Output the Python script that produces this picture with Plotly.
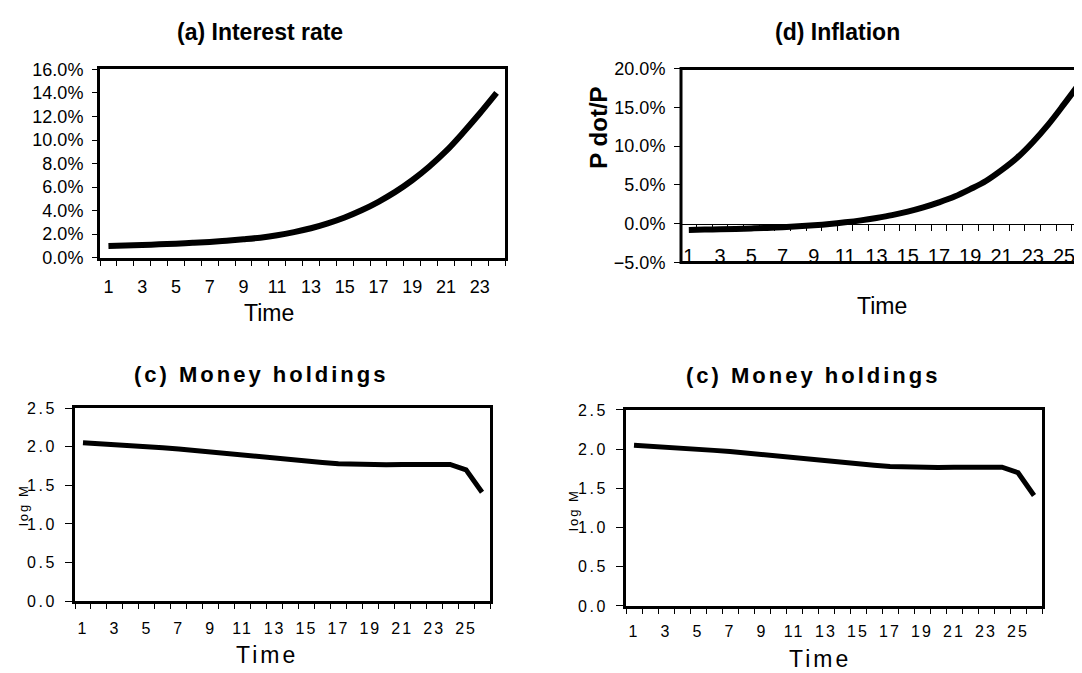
import plotly.graph_objects as go

# ---------------- data ----------------
time_a = list(range(1, 25))
interest_rate = [1.00, 1.04, 1.08, 1.13, 1.19, 1.26, 1.34, 1.44, 1.56, 1.70, 1.90, 2.17,
                 2.50, 2.92, 3.42, 4.03, 4.75, 5.59, 6.58, 7.73, 9.05, 10.6, 12.25, 14.0]

time_d = list(range(1, 27))
inflation = [-0.80, -0.76, -0.72, -0.67, -0.61, -0.54, -0.45, -0.34, -0.20, -0.03, 0.18, 0.43,
             0.74, 1.10, 1.55, 2.10, 2.75, 3.50, 4.45, 5.50, 6.90, 8.50, 10.50, 12.80, 15.40, 18.10]

time_c = list(range(1, 27))
money_holdings = [2.05, 2.04, 2.03, 2.015, 2.00, 1.985, 1.97, 1.95, 1.93, 1.91, 1.89, 1.865,
                  1.84, 1.825, 1.81, 1.795, 1.78, 1.77, 1.765, 1.765, 1.77, 1.775, 1.78, 1.77,
                  1.70, 1.41]

odd_ticks_24 = list(range(1, 25, 2))
odd_ticks_26 = list(range(1, 27, 2))
logm_ticks = [0.0, 0.5, 1.0, 1.5, 2.0, 2.5]

W, H = 1082, 673
FONT = "Liberation Sans, Arial, sans-serif"


def px(x):
    return x / W


def py(y):
    return 1 - y / H


def spaced(text, sp):
    return f'<span style="letter-spacing:{sp}px">{text}</span>'


fig = go.Figure()
fig.add_trace(go.Scatter(x=time_a, y=interest_rate, mode="lines", xaxis="x", yaxis="y",
                         line=dict(color="black", width=6, shape="spline"), showlegend=False))
fig.add_trace(go.Scatter(x=time_d, y=inflation, mode="lines", xaxis="x2", yaxis="y2",
                         line=dict(color="black", width=6, shape="spline"), showlegend=False))
fig.add_trace(go.Scatter(x=time_c, y=money_holdings, mode="lines", xaxis="x3", yaxis="y3",
                         line=dict(color="black", width=5), showlegend=False))
fig.add_trace(go.Scatter(x=time_c, y=money_holdings, mode="lines", xaxis="x4", yaxis="y4",
                         line=dict(color="black", width=5), showlegend=False))


def cat_xaxis(domain, n, labels, texts, size, standoff, **kw):
    d = dict(domain=domain, range=[0.5, n + 0.5], tickmode="array", tickvals=labels,
             ticktext=texts, ticks="", showgrid=False, zeroline=False,
             tickfont=dict(family=FONT, size=size, color="black"), ticklabelstandoff=standoff,
             minor=dict(tickmode="linear", tick0=0.5, dtick=1, ticks="outside", ticklen=5,
                        tickwidth=1, tickcolor="black", showgrid=False),
             fixedrange=True)
    d.update(kw)
    return d


layout = dict(
    width=W, height=H, autosize=False,
    margin=dict(l=0, r=0, t=0, b=0),
    paper_bgcolor="white", plot_bgcolor="white",
    font=dict(family=FONT, color="black"),
    showlegend=False,
)

# (a) Interest rate
layout["xaxis"] = cat_xaxis([px(92), px(497)], 24, odd_ticks_24, [str(v) for v in odd_ticks_24],
                            18, 11, anchor="y",
                            showline=True, linewidth=3, linecolor="black", mirror=True)
layout["yaxis"] = dict(domain=[py(247), py(53)], range=[0, 16], dtick=2, tickformat=".1f",
                       ticksuffix="%", ticks="outside", ticklen=5, tickcolor="black",
                       showline=True, linewidth=3, linecolor="black", mirror=True,
                       showgrid=False, zeroline=False, anchor="x",
                       tickfont=dict(family=FONT, size=18, color="black"), ticklabelstandoff=5)

# (d) Inflation
d_top, d_bot = 52, 252
zero_y = 212.3
layout["xaxis2"] = cat_xaxis([px(673), px(1079.5)], 26, odd_ticks_26, [str(v) for v in odd_ticks_26],
                             20, 14, anchor="free",
                             position=py(zero_y), showline=True, linewidth=1, linecolor="black")
layout["xaxis2"]["minor"]["ticklen"] = 6
layout["yaxis2"] = dict(domain=[py(d_bot), py(d_top)], range=[-5, 20], dtick=5, tickformat=".1f",
                        ticksuffix="%", ticks="outside", ticklen=6, tickcolor="black",
                        showline=False, showgrid=False, zeroline=False, anchor="x2",
                        tickfont=dict(family=FONT, size=18, color="black"), ticklabelstandoff=5)

# (c) Money holdings panels
x_texts_c = [spaced(str(v), 2) for v in odd_ticks_26]
y_texts_c = [spaced(f"{v:.1f}", 2.5) for v in logm_ticks]
for ax_i, (xl, xr, yt, yb, so) in zip((3, 4), ((67, 482, 402, 601, 11), (618, 1034, 404, 606, 9))):
    layout[f"xaxis{ax_i}"] = cat_xaxis([px(xl), px(xr)], 26, odd_ticks_26, x_texts_c, 16, so,
                                       anchor=f"y{ax_i}", showline=True, linewidth=3,
                                       linecolor="black", mirror=True)
    layout[f"yaxis{ax_i}"] = dict(domain=[py(yb), py(yt)], range=[0, 2.5], tickmode="array",
                                  tickvals=logm_ticks, ticktext=y_texts_c,
                                  ticks="outside", ticklen=7, tickcolor="black",
                                  showline=True, linewidth=3, linecolor="black", mirror=True,
                                  showgrid=False, zeroline=False, anchor=f"x{ax_i}",
                                  tickfont=dict(family=FONT, size=16, color="black"),
                                  ticklabelstandoff=5)

fig.update_layout(**layout)

# box around the inflation panel
fig.add_shape(type="rect", xref="x2 domain", yref="y2 domain", x0=0, x1=1, y0=0, y1=1,
              line=dict(color="black", width=3), layer="above")


def label(text, x, y, size, bold=False, angle=0, sp=None):
    t = f"<b>{text}</b>" if bold else text
    if sp:
        t = spaced(t, sp)
    fig.add_annotation(text=t, x=px(x), y=py(y),
                       xref="paper", yref="paper", xanchor="center", yanchor="middle",
                       showarrow=False, textangle=angle,
                       font=dict(family=FONT, size=size, color="black"))


label("(a) Interest rate", 252, 14, 23, bold=True)
label("Time", 261, 304, 23)
label("(d) Inflation", 829, 14, 23, bold=True)
label("P dot/P", 591, 113, 24, bold=True, angle=-90)
label("Time", 874, 297, 23)
label("(c) Money holdings", 253, 367, 22, bold=True, sp=3)
label("(c) Money holdings", 805, 368, 22, bold=True, sp=3)
label("log M", 15, 502, 13, angle=-90, sp=2)
label("log M", 566, 507, 13, angle=-90, sp=2)
label("Time", 259, 656, 23, sp=3)
label("Time", 812, 661, 23, sp=3)

fig.write_html("out.html")
